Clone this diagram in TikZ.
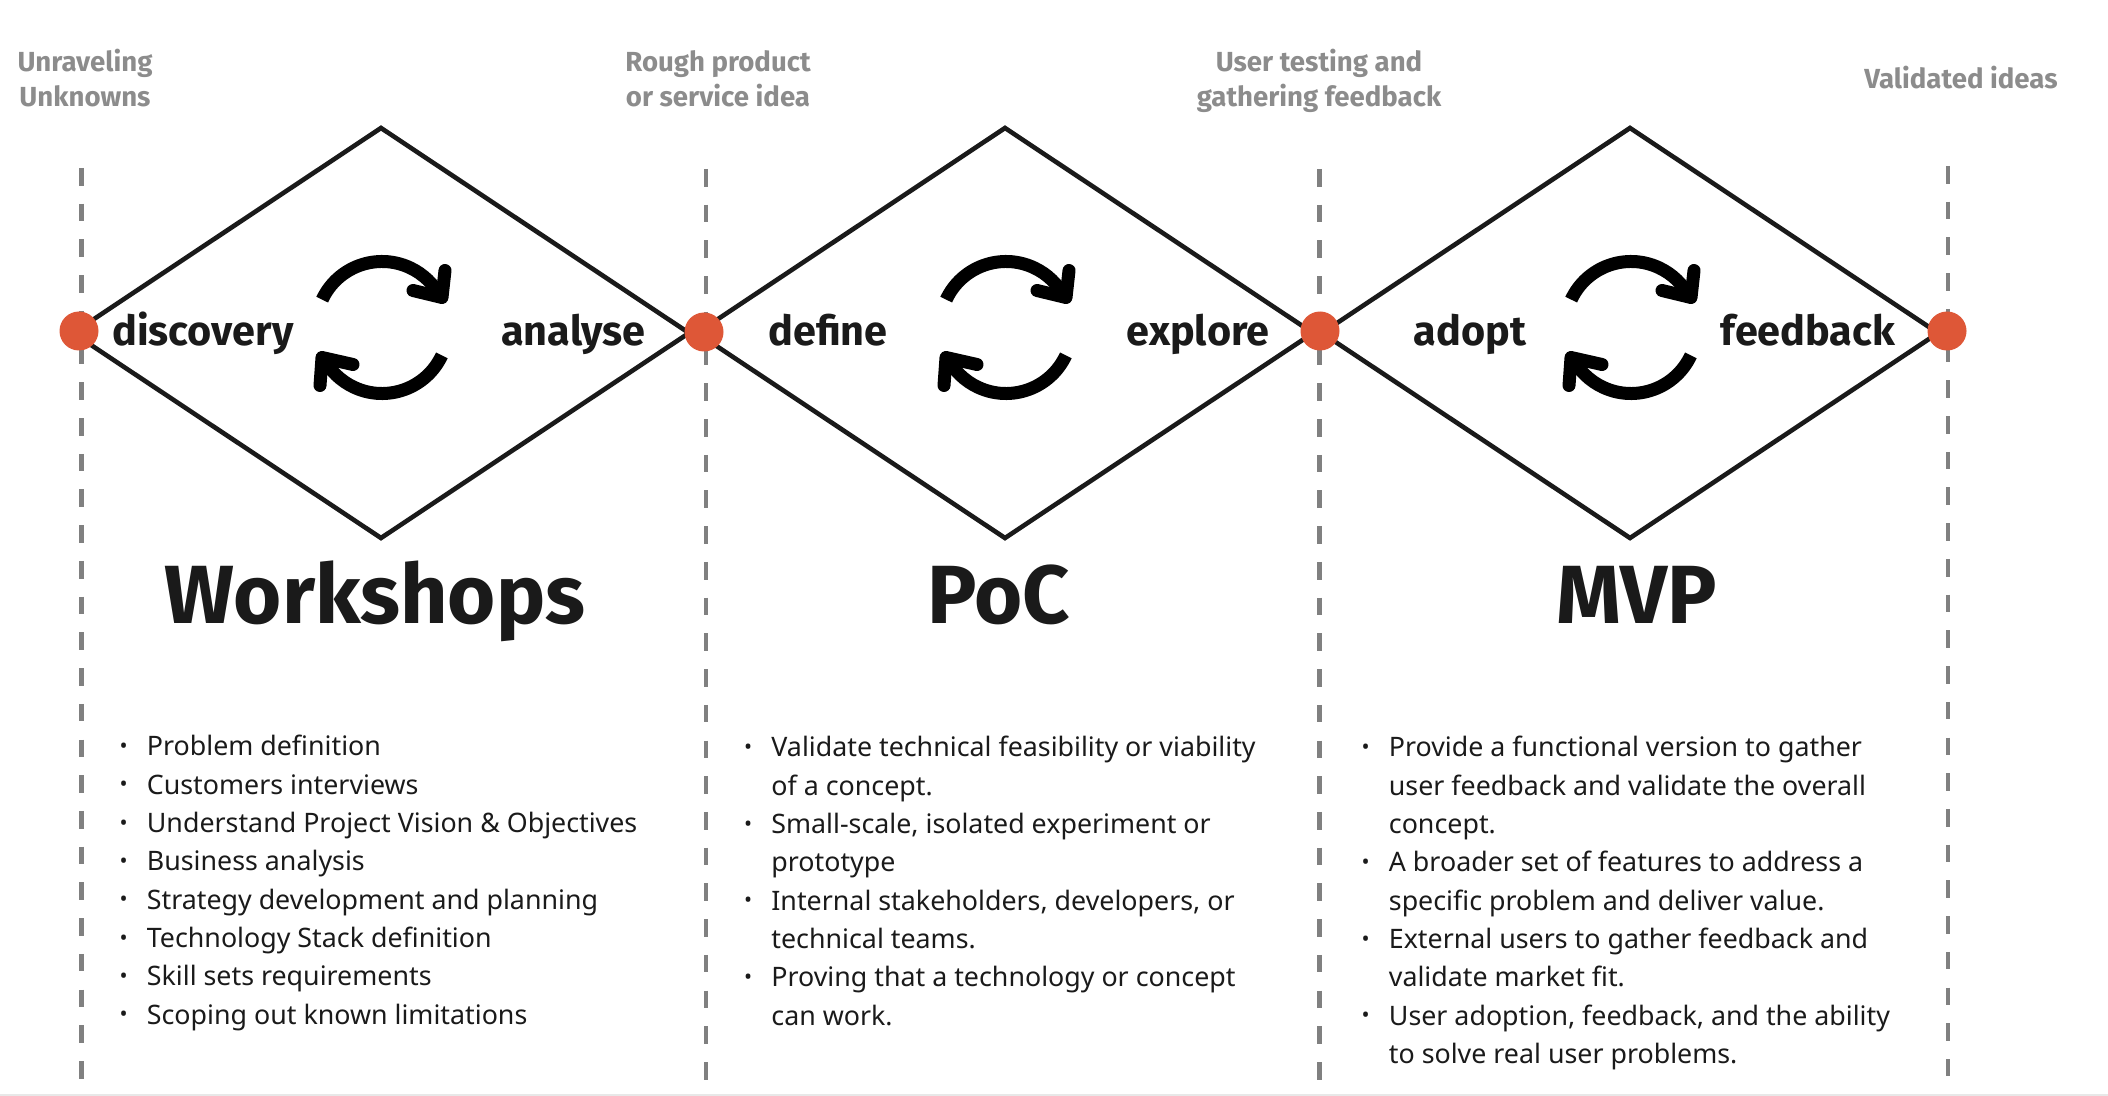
\documentclass[tikz,border=0pt]{standalone}
\usepackage{fontspec}
\usepackage{tikz}
\usetikzlibrary{shapes.geometric}
\setmainfont{Noto Sans}
\newfontfamily\headfont{Fira Sans}
\definecolor{ink}{HTML}{1A1A1A}
\definecolor{linegray}{HTML}{808080}
\definecolor{capgray}{HTML}{8C8C8C}
\definecolor{edgegray}{HTML}{E8E8E8}
\definecolor{dotred}{HTML}{DE5737}
\newcommand{\bul}{\leavevmode\llap{\makebox[13.6pt][l]{\raisebox{1.2pt}{\scalebox{0.8}{\textbullet}}}}}
\tikzset{
  rhomb/.style={diamond, draw=ink, line width=2.3pt, inner sep=0pt, outer sep=0pt, minimum width=308pt, minimum height=205pt},
  divider/.style={draw=linegray, line width=2.2pt, dash pattern=on 8.8pt off 9.06pt},
  joint/.style={circle, fill=dotred, inner sep=0pt, minimum size=19.5pt},
  stage/.style={font=\headfont\bfseries\fontsize{20.7}{25}\selectfont, text=ink, inner sep=0pt, anchor=base},
  phase/.style={font=\headfont\bfseries\fontsize{41.3}{49}\selectfont, text=ink, inner sep=0pt, anchor=base},
  caption/.style={font=\headfont\bfseries\fontsize{13.8}{17.5}\selectfont, text=capgray, inner sep=0pt, align=center},
  bullets/.style={font=\fontsize{13.4}{19.15}\selectfont, text=ink, inner sep=0pt, align=left, anchor=north west},
  cycle/.style={line width=6.5pt, draw=black},
  cyclehead/.style={line width=6.5pt, draw=black, line cap=round, line join=round}
}
\begin{document}
\begin{tikzpicture}[x=0.5pt, y=-0.5pt]
  \useasboundingbox (0,0) rectangle (2108,1096);
  % page edge
  \coordinate (edgel) at (0,1095);
  \coordinate (edger) at (2108,1095);
  \draw[edgegray, line width=1pt] (edgel) -- (edger);
  % dividers
  \foreach \name/\xx/\ya/\yb in {a/81.5/168/1079, b/706/169/1080, c/1319.5/169/1080, d/1948/166/1076} {
    \coordinate (top\name) at (\xx,\ya);
    \coordinate (bot\name) at (\xx,\yb);
    \draw[divider] (top\name) -- (bot\name);
  }
  % diamonds
  \node[rhomb] (dis) at (381,333) {};
  \node[rhomb] (poc) at (1005,333) {};
  \node[rhomb] (mvp) at (1630,333) {};
  % cycle arrows
  \foreach \cx in {382, 1006, 1631} {
    \begin{scope}[shift={(\cx,327.5)}]
      \draw[cycle] (-155:66) arc[start angle=-155, end angle=-27, radius=66];
      \draw[cyclehead] (63,-57) -- (60,-30) -- (31,-37);
      \draw[cycle] (25:66) arc[start angle=25, end angle=153, radius=66];
      \draw[cyclehead] (-62,58) -- (-60,30) -- (-29,37);
    \end{scope}
  }
  % joints
  \node[joint] (j1) at (79,331) {};
  \node[joint] (j2) at (704,332) {};
  \node[joint] (j3) at (1320,331) {};
  \node[joint] (j4) at (1947,331) {};
  % stage labels
  \node[stage] (discovery) at (203,346) {discovery};
  \node[stage] (analyse) at (573.5,346) {analyse};
  \node[stage] (define) at (828,346) {define};
  \node[stage] (explore) at (1198,346) {explore};
  \node[stage] (adopt) at (1470,346) {adopt};
  \node[stage] (feedback) at (1808,346) {feedback};
  % phase titles
  \node[phase] (workshops) at (375,623) {Workshops};
  \node[phase] (pocname) at (999,623) {PoC};
  \node[phase] (mvpname) at (1637,623) {MVP};
  % captions
  \node[caption] (cap1) at (85,78) {Unraveling\\Unknowns};
  \node[caption] (cap2) at (718,79) {Rough product\\or service idea};
  \node[caption] (cap3) at (1319,80.5) {User testing and\\gathering feedback};
  \node[caption] (cap4) at (1961,78) {Validated ideas};
  % lists
  \node[bullets] (list1) at (146.5,735) {\bul Problem definition\\\bul Customers interviews\\\bul Understand Project Vision \& Objectives\\\bul Business analysis\\\bul Strategy development and planning\\\bul Technology Stack definition\\\bul Skill sets requirements\\\bul Scoping out known limitations};
  \node[bullets] (list2) at (771,736) {\bul Validate technical feasibility or viability\\of a concept.\\\bul Small-scale, isolated experiment or\\prototype\\\bul Internal stakeholders, developers, or\\technical teams.\\\bul Proving that a technology or concept\\can work.};
  \node[bullets] (list3) at (1388.5,736) {\bul Provide a functional version to gather\\user feedback and validate the overall\\concept.\\\bul A broader set of features to address a\\specific problem and deliver value.\\\bul External users to gather feedback and\\validate market fit.\\\bul User adoption, feedback, and the ability\\to solve real user problems.};
\end{tikzpicture}
\end{document}
